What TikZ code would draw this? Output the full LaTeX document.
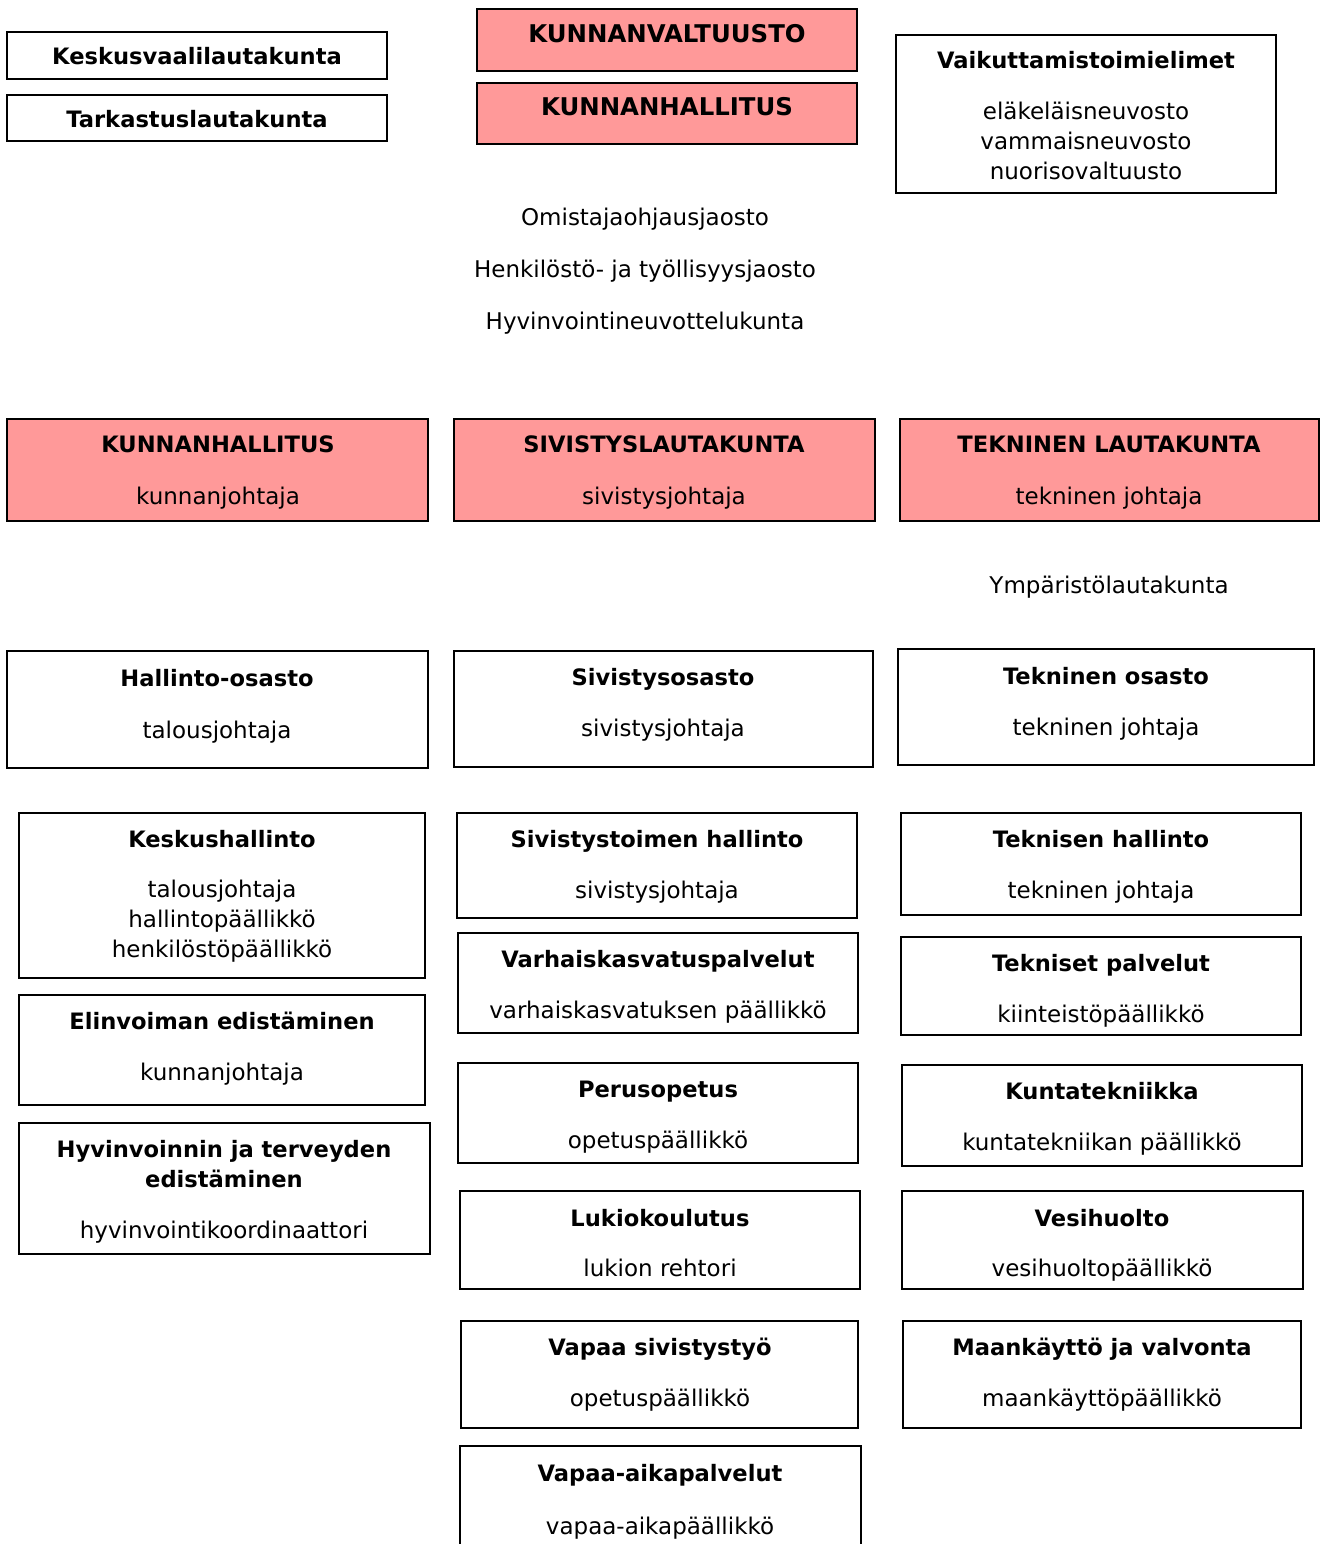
\documentclass[tikz,border=0pt]{standalone}
\usepackage{fontspec}
\setmainfont{DejaVu Sans}
\usepackage{xcolor}
\usepackage{tikz}

\begin{document}
\begin{tikzpicture}[x=0.5pt,y=-0.5pt,
        laatikko/.style={draw=black, line width=0.65pt},
        otsikko/.style={anchor=base, inner sep=0pt, align=center, font=\fontsize{11.3pt}{15pt}\selectfont\bfseries},
        isootsikko/.style={anchor=base, inner sep=0pt, font=\fontsize{12.2pt}{15pt}\selectfont\bfseries},
        teksti/.style={anchor=base, inner sep=0pt, align=center, font=\fontsize{11.5pt}{15pt}\selectfont}]
        \definecolor{punainen}{RGB}{255,153,153}
        \useasboundingbox (0,0) rectangle (1320,1544);
        % ylarivi
        \draw[laatikko] (7,32) rectangle (387,79);
        \node[otsikko] (vaali) at (197,64) {Keskusvaalilautakunta};
        \draw[laatikko] (7,95) rectangle (387,141);
        \node[otsikko] (tarkastus) at (197,127) {Tarkastuslautakunta};
        \draw[laatikko, fill=punainen] (477,9) rectangle (857,71);
        \node[isootsikko] (valtuusto) at (667,42) {KUNNANVALTUUSTO};
        \draw[laatikko, fill=punainen] (477,83) rectangle (857,144);
        \node[isootsikko] (hallitus) at (667,115) {KUNNANHALLITUS};
        \draw[laatikko] (896,35) rectangle (1276,193);
        \node[otsikko] (vaikutus) at (1086,68) {Vaikuttamistoimielimet};
        % monirivisen solmun base on viimeisen rivin kohdalla
        \node[teksti] (vaikutus-t) at (1086,179) {eläkeläisneuvosto\\vammaisneuvosto\\nuorisovaltuusto};
        \node[teksti] (omistaja) at (645,225) {Omistajaohjausjaosto};
        \node[teksti] (henkilosto) at (645,277) {Henkilöstö- ja työllisyysjaosto};
        \node[teksti] (neuvottelu) at (645,329) {Hyvinvointineuvottelukunta};
        % lautakunnat
        \draw[laatikko, fill=punainen] (7,419) rectangle (428,521);
        \node[otsikko] (kh) at (218,452) {KUNNANHALLITUS};
        \node[teksti] (kh-t) at (218,504) {kunnanjohtaja};
        \draw[laatikko, fill=punainen] (454,419) rectangle (875,521);
        \node[otsikko] (sivltk) at (664,452) {SIVISTYSLAUTAKUNTA};
        \node[teksti] (sivltk-t) at (664,504) {sivistysjohtaja};
        \draw[laatikko, fill=punainen] (900,419) rectangle (1319,521);
        \node[otsikko] (tekltk) at (1109,452) {TEKNINEN LAUTAKUNTA};
        \node[teksti] (tekltk-t) at (1109,504) {tekninen johtaja};
        \node[teksti] (ymparisto) at (1109,593) {Ympäristölautakunta};
        % osastot
        \draw[laatikko] (7,651) rectangle (428,768);
        \node[otsikko] (hallinto) at (217,686) {Hallinto-osasto};
        \node[teksti] (hallinto-t) at (217,738) {talousjohtaja};
        \draw[laatikko] (454,651) rectangle (873,767);
        \node[otsikko] (sivistys) at (663,685) {Sivistysosasto};
        \node[teksti] (sivistys-t) at (663,736) {sivistysjohtaja};
        \draw[laatikko] (898,649) rectangle (1314,765);
        \node[otsikko] (tekninen) at (1106,684) {Tekninen osasto};
        \node[teksti] (tekninen-t) at (1106,735) {tekninen johtaja};
        % hallinto-osaston yksikot
        \draw[laatikko] (19,813) rectangle (425,978);
        \node[otsikko] (keskus) at (222,847) {Keskushallinto};
        \node[teksti] (keskus-t) at (222,957) {talousjohtaja\\hallintopäällikkö\\henkilöstöpäällikkö};
        \draw[laatikko] (19,995) rectangle (425,1105);
        \node[otsikko] (elinvoima) at (222,1029) {Elinvoiman edistäminen};
        \node[teksti] (elinvoima-t) at (222,1080) {kunnanjohtaja};
        \draw[laatikko] (19,1123) rectangle (430,1254);
        \node[otsikko] (hyte) at (224,1187) {Hyvinvoinnin ja terveyden\\edistäminen};
        \node[teksti] (hyte-t) at (224,1238) {hyvinvointikoordinaattori};
        % sivistysosaston yksikot
        \draw[laatikko] (457,813) rectangle (857,918);
        \node[otsikko] (sivhall) at (657,847) {Sivistystoimen hallinto};
        \node[teksti] (sivhall-t) at (657,898) {sivistysjohtaja};
        \draw[laatikko] (458,933) rectangle (858,1033);
        \node[otsikko] (varhais) at (658,967) {Varhaiskasvatuspalvelut};
        \node[teksti] (varhais-t) at (658,1018) {varhaiskasvatuksen päällikkö};
        \draw[laatikko] (458,1063) rectangle (858,1163);
        \node[otsikko] (perus) at (658,1097) {Perusopetus};
        \node[teksti] (perus-t) at (658,1148) {opetuspäällikkö};
        \draw[laatikko] (460,1191) rectangle (860,1289);
        \node[otsikko] (lukio) at (660,1226) {Lukiokoulutus};
        \node[teksti] (lukio-t) at (660,1276) {lukion rehtori};
        \draw[laatikko] (461,1321) rectangle (858,1428);
        \node[otsikko] (vapaasiv) at (660,1355) {Vapaa sivistystyö};
        \node[teksti] (vapaasiv-t) at (660,1406) {opetuspäällikkö};
        \draw[laatikko] (460,1446) rectangle (861,1560);
        \node[otsikko] (vapaaaika) at (660,1481) {Vapaa-aikapalvelut};
        \node[teksti] (vapaaaika-t) at (660,1534) {vapaa-aikapäällikkö};
        % teknisen osaston yksikot
        \draw[laatikko] (901,813) rectangle (1301,915);
        \node[otsikko] (tekhall) at (1101,847) {Teknisen hallinto};
        \node[teksti] (tekhall-t) at (1101,898) {tekninen johtaja};
        \draw[laatikko] (901,937) rectangle (1301,1035);
        \node[otsikko] (tekpalv) at (1101,971) {Tekniset palvelut};
        \node[teksti] (tekpalv-t) at (1101,1022) {kiinteistöpäällikkö};
        \draw[laatikko] (902,1065) rectangle (1302,1166);
        \node[otsikko] (kuntatek) at (1102,1099) {Kuntatekniikka};
        \node[teksti] (kuntatek-t) at (1102,1150) {kuntatekniikan päällikkö};
        \draw[laatikko] (902,1191) rectangle (1303,1289);
        \node[otsikko] (vesi) at (1102,1226) {Vesihuolto};
        \node[teksti] (vesi-t) at (1102,1276) {vesihuoltopäällikkö};
        \draw[laatikko] (903,1321) rectangle (1301,1428);
        \node[otsikko] (maankaytto) at (1102,1355) {Maankäyttö ja valvonta};
        \node[teksti] (maankaytto-t) at (1102,1406) {maankäyttöpäällikkö};
    \end{tikzpicture}
\end{document}
